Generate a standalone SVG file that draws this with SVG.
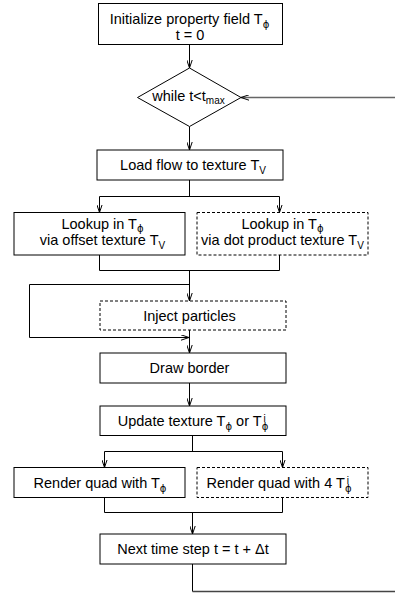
<svg xmlns="http://www.w3.org/2000/svg" width="395" height="593" viewBox="0 0 395 593">
<style>
.b{fill:#fff;stroke:#000;stroke-width:1}
.d{fill:#fff;stroke:#000;stroke-width:1;stroke-dasharray:3,2}
.t{font-family:"Liberation Sans",Arial,sans-serif;font-size:14.5px;fill:#000;text-anchor:middle}
.s{font-size:10px}
.p{font-family:"DejaVu Sans",sans-serif;font-size:10px;fill:#000}
.c{fill:none;stroke:#000;stroke-width:1}
.f{fill:none;stroke:#666;stroke-width:1.6}
</style>
<defs>
<marker id="a" viewBox="0 0 8 6" refX="8" refY="3" markerWidth="8" markerHeight="6" markerUnits="userSpaceOnUse" orient="auto">
<path d="M0,0.3 L8,3 L0,5.7" fill="none" stroke="#000" stroke-width="1"/>
</marker>
</defs>
<g id="connectors">
<path class="c" d="M189.5,44 V68" marker-end="url(#a)"/>
<path class="f" d="M400,97.5 H241" marker-end="url(#a)"/>
<path class="c" d="M189.5,126.5 V150" marker-end="url(#a)"/>
<path class="c" d="M189.5,180 V196.5 M99.5,196.5 H279.5"/>
<path class="c" d="M99.5,196.5 V212.5" marker-end="url(#a)"/>
<path class="c" d="M279.5,196.5 V212.5" marker-end="url(#a)"/>
<path class="c" d="M99.5,255 V270.5 H279.5 V255"/>
<path class="c" d="M189.5,270.5 V301" marker-end="url(#a)"/>
<path class="c" d="M189.5,284.5 H29.5 V337.5 H189" marker-end="url(#a)"/>
<path class="c" d="M189.5,330 V353" marker-end="url(#a)"/>
<path class="c" d="M189.5,383 V406" marker-end="url(#a)"/>
<path class="c" d="M192.5,435.5 V451.5 M104.5,451.5 H282.5"/>
<path class="c" d="M104.5,451.5 V467.5" marker-end="url(#a)"/>
<path class="c" d="M282.5,451.5 V467.5" marker-end="url(#a)"/>
<path class="c" d="M104.5,497.5 V512.5 H282.5 V497.5"/>
<path class="c" d="M192.5,512.5 V534" marker-end="url(#a)"/>
<path class="c" d="M192.5,564 V591.5"/>
<path class="f" style="stroke:#444" d="M192.5,591.5 H400"/>
</g>
<g id="init">
<rect class="b" x="98.5" y="3.5" width="184" height="41"/>
<text class="t" x="189.5" y="24">Initialize property field T<tspan class="p" dy="3.5">ϕ</tspan></text>
<text class="t" x="190" y="40">t = 0</text>
</g>
<g id="while">
<polygon class="b" points="189.5,68 241,97.5 189.5,126.5 137.5,97.5"/>
<text class="t" x="188.5" y="101">while t&lt;t<tspan class="s" dy="3">max</tspan></text>
</g>
<g id="load">
<rect class="b" x="97" y="150" width="186" height="30"/>
<text class="t" x="193" y="170">Load flow to texture T<tspan class="s" dy="3.5">V</tspan></text>
</g>
<g id="lookup-offset">
<rect class="b" x="14" y="212.5" width="171" height="42.5"/>
<text class="t" x="102.5" y="229">Lookup in T<tspan class="p" dy="3">ϕ</tspan></text>
<text class="t" x="102.5" y="245">via offset texture T<tspan class="s" dy="3.5">V</tspan></text>
</g>
<g id="lookup-dot">
<rect class="d" x="197" y="212.5" width="171" height="42.5"/>
<text class="t" x="282.5" y="229">Lookup in T<tspan class="p" dy="3">ϕ</tspan></text>
<text class="t" x="282.5" y="245">via dot product texture T<tspan class="s" dy="3.5">V</tspan></text>
</g>
<g id="inject">
<rect class="d" x="100" y="301" width="186" height="29"/>
<text class="t" x="189.5" y="320.5">Inject particles</text>
</g>
<g id="border">
<rect class="b" x="100" y="353" width="186" height="30"/>
<text class="t" x="189.5" y="373">Draw border</text>
</g>
<g id="update">
<rect class="b" x="100" y="406" width="186" height="29.5"/>
<text class="t" x="193" y="426">Update texture T<tspan class="p" dy="3.5">ϕ</tspan><tspan dy="-3.5"> or T</tspan><tspan class="p" dy="3.5">ϕ</tspan><tspan class="s" dx="-4.8" dy="-7.5">i</tspan></text>
</g>
<g id="render-single">
<rect class="b" x="14" y="467.5" width="171" height="30"/>
<text class="t" x="100" y="488">Render quad with T<tspan class="p" dy="3.5">ϕ</tspan></text>
</g>
<g id="render-four">
<rect class="d" x="197" y="467.5" width="171" height="30"/>
<text class="t" x="279" y="488">Render quad with 4 T<tspan class="p" dy="3.5">ϕ</tspan><tspan class="s" dx="-4.8" dy="-7.5">i</tspan></text>
</g>
<g id="next">
<rect class="b" x="100" y="534" width="186" height="30"/>
<text class="t" x="193" y="554">Next time step t = t + Δt</text>
</g>
</svg>
